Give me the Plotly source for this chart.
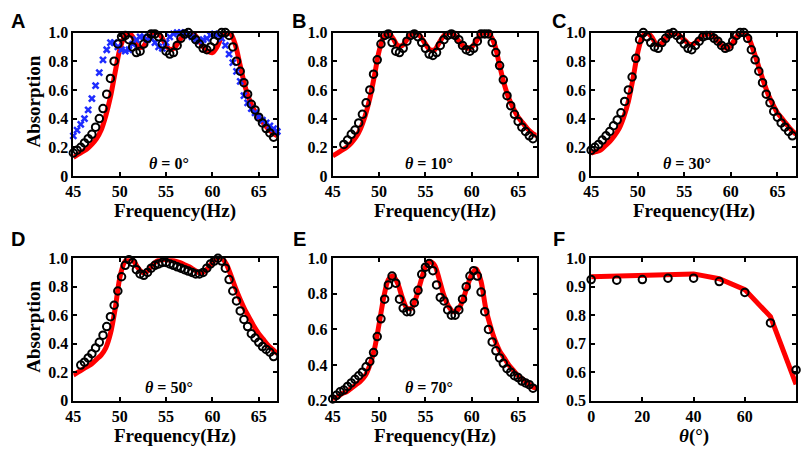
import plotly.graph_objects as go
from plotly.subplots import make_subplots

# measured frequencies (circles / crosses) and simulated frequencies (red curves)
f_meas = [45.0, 45.4, 45.8, 46.2, 46.6, 47.0, 47.4, 47.8, 48.2, 48.6,
          49.0, 49.4, 49.8, 50.2, 50.6, 51.0, 51.4, 51.8, 52.2, 52.6,
          53.0, 53.4, 53.8, 54.2, 54.6, 55.0, 55.4, 55.8, 56.2, 56.6,
          57.0, 57.4, 57.8, 58.2, 58.6, 59.0, 59.4, 59.8, 60.2, 60.6,
          61.0, 61.4, 61.8, 62.2, 62.6, 63.0, 63.4, 63.8, 64.2, 64.6,
          65.0, 65.4, 65.8, 66.2, 66.6, 67.0]
f_sim = [45, 45.5, 46, 46.5, 47, 47.5, 48, 48.5, 49, 49.5,
         50, 50.5, 51, 51.5, 52, 52.5, 53, 53.5, 54, 54.5,
         55, 55.5, 56, 56.5, 57, 57.5, 58, 58.5, 59, 59.5,
         60, 60.5, 61, 61.5, 62, 62.5, 63, 63.5, 64, 64.5,
         65, 65.5, 66, 66.5, 67]

# panel A (theta = 0)
meas_A = [.16, .18, .20, .23, .26, .29, .34, .40, .47, .57,
          .68, .80, .92, .97, .98, .95, .90, .86, .87, .92,
          .96, .99, .99, .97, .92, .87, .85, .86, .91, .96,
          .99, 1.0, .98, .95, .92, .89, .88, .90, .94, .98,
          1.0, 1.0, .98, .90, .80, .73, .65, .57, .50, .46,
          .41, .37, .33, .30, .27, None]
cross_A = [.28, .32, .36, .40, .46, .54, .63, .72, .81, .88,
           .93, .93, .90, .88, .87, .88, .92, .95, .97, .97,
           .95, .96, .93, .90, .89, .93, .97, .99, 1.0, 1.0,
           1.0, .98, .97, .95, .94, .95, .96, .98, .99, .98,
           .96, .91, .85, .79, .73, .66, .56, .51, .47, .44,
           .41, .39, .37, .35, .33, .31]
sim_A = [.13, .15, .17, .19, .22, .26, .32, .42, .55, .72,
         .88, .97, 1.0, .96, .90, .90, .95, .99, 1.0, .97,
         .91, .88, .90, .95, .99, 1.0, .99, .95, .90, .87,
         .86, .90, .97, 1.0, .99, .91, .77, .63, .53, .46,
         .41, .37, .33, .30, .28]

# panel B (theta = 10)
meas_B = [None, None, None, .22, .25, .29, .32, .37, .43, .51,
          .60, .71, .81, .92, .98, .99, .93, .87, .86, .89,
          .94, .98, .99, .97, .93, .89, .85, .84, .86, .91,
          .95, .98, .99, .98, .95, .91, .88, .87, .89, .94,
          .99, .99, .99, .93, .86, .77, .67, .56, .49, .43,
          .38, .34, .31, .28, .26, None]
sim_B = [.14, .16, .18, .20, .23, .27, .33, .42, .54, .70,
         .87, .97, 1.0, .96, .91, .91, .95, .99, 1.0, .97,
         .92, .88, .88, .93, .98, 1.0, .99, .95, .91, .89,
         .90, .94, .99, 1.0, .98, .91, .77, .64, .54, .47,
         .41, .37, .33, .30, .28]

# panel C (theta = 30)
meas_C = [.18, .20, .22, .25, .28, .31, .35, .39, .44, .52,
          .60, .69, .82, .95, 1.0, .97, .93, .90, .89, .93,
          .96, .99, 1.0, .98, .95, .92, .89, .88, .91, .94,
          .97, .98, .98, .96, .94, .91, .89, .90, .94, .98,
          1.0, 1.0, .96, .88, .81, .73, .65, .57, .51, .45,
          .41, .37, .34, .31, .28, None]
sim_C = [.16, .17, .18, .21, .24, .28, .33, .41, .52, .68,
         .86, .97, 1.0, .97, .92, .92, .96, .99, 1.0, .98,
         .95, .92, .92, .95, .98, .99, .98, .95, .91, .89,
         .91, .96, 1.0, 1.0, .95, .86, .76, .66, .57, .50,
         .44, .40, .36, .32, .29]

# panel D (theta = 50)
meas_D = [None, None, .25, .27, .30, .33, .37, .41, .46, .52,
          .59, .67, .77, .87, .95, .99, .97, .92, .89, .88,
          .90, .93, .95, .96, .97, .97, .96, .95, .94, .93,
          .92, .91, .90, .89, .89, .90, .93, .96, .98, 1.0,
          .98, .93, .85, .77, .70, .63, .57, .52, .47, .44,
          .41, .38, .36, .34, .31, None]
sim_D = [.18, .20, .22, .24, .26, .29, .32, .37, .47, .64,
         .86, .97, 1.0, .98, .93, .90, .91, .95, .98, .99,
         .99, .985, .98, .97, .955, .94, .92, .90, .90, .93,
         .97, 1.0, 1.0, .96, .88, .79, .71, .64, .58, .52,
         .47, .43, .39, .36, .33]

# panel E (theta = 70)
meas_E = [.21, .23, .25, .26, .28, .30, .32, .34, .36, .39,
          .42, .47, .56, .66, .77, .85, .90, .86, .77, .72,
          .70, .70, .75, .82, .91, .95, .97, .93, .85, .78,
          .76, .71, .68, .68, .71, .77, .84, .90, .93, .90,
          .81, .70, .60, .53, .48, .44, .41, .38, .36, .34,
          .33, .31, .30, .29, .27, None]
sim_E = [.21, .22, .24, .25, .27, .29, .31, .34, .40, .49,
         .63, .78, .88, .90, .86, .78, .72, .72, .78, .87,
         .95, .98, .96, .88, .79, .73, .70, .71, .76, .84,
         .91, .94, .87, .72, .62, .54, .48, .44, .40, .37,
         .34, .32, .30, .28, .27]

# panel F: absorption vs incidence angle
angles = [0, 10, 20, 30, 40, 50, 60, 70, 80]
meas_F = [.925, .923, .925, .930, .930, .918, .880, .773, .608]
sim_F = [.935, .937, .940, .944, .945, .928, .890, .795, .557]

panels = ["A", "B", "C", "D", "E", "F"]
thetas = ["0", "10", "30", "50", "70"]
meas_list = [meas_A, meas_B, meas_C, meas_D, meas_E]
sim_list = [sim_A, sim_B, sim_C, sim_D, sim_E]

freq_ticks = [45, 50, 55, 60, 65]
abs_ticks = [0, 0.2, 0.4, 0.6, 0.8, 1.0]
abs_text = ["0", "0.2", "0.4", "0.6", "0.8", "1.0"]
absE_ticks = [0.2, 0.4, 0.6, 0.8, 1.0]
absE_text = ["0.2", "0.4", "0.6", "0.8", "1.0"]
ang_ticks = [0, 20, 40, 60, 80]
absF_ticks = [0.5, 0.6, 0.7, 0.8, 0.9, 1.0]
absF_text = ["0.5", "0.6", "0.7", "0.8", "0.9", "1.0"]

SERIF = "Liberation Serif, Times New Roman, serif"
RED = "#ff0000"
BLUE = "#1f2dff"

fig = make_subplots(rows=2, cols=3)

for i in range(5):
    r, c = i // 3 + 1, i % 3 + 1
    fig.add_trace(go.Scatter(x=f_sim, y=sim_list[i], mode="lines",
                             line=dict(color=RED, width=5, shape="spline", smoothing=0.8),
                             showlegend=False), row=r, col=c)
    if i == 0:
        fig.add_trace(go.Scatter(x=f_meas, y=cross_A, mode="markers",
                                 marker=dict(symbol="x-thin", size=6, color=BLUE,
                                             line=dict(color=BLUE, width=2.5)),
                                 cliponaxis=False, showlegend=False), row=r, col=c)
    fig.add_trace(go.Scatter(x=f_meas, y=meas_list[i], mode="markers",
                             marker=dict(symbol="circle-open", size=7.5, color="black",
                                         line=dict(color="black", width=2)),
                             cliponaxis=False, showlegend=False), row=r, col=c)

fig.add_trace(go.Scatter(x=angles, y=sim_F, mode="lines",
                         line=dict(color=RED, width=5), showlegend=False), row=2, col=3)
fig.add_trace(go.Scatter(x=angles, y=meas_F, mode="markers",
                         marker=dict(symbol="circle-open", size=7.5, color="black",
                                     line=dict(color="black", width=2)),
                         cliponaxis=False, showlegend=False), row=2, col=3)

# panel placement (pixels of the 803x453 canvas)
col_dom = [[66 / 803, 272 / 803], [328 / 803, 534 / 803], [589 / 803, 796 / 803]]
row_dom = [[1 - 174.5 / 453, 1 - 25.5 / 453], [1 - 408 / 453, 1 - 260 / 453]]

axis_style = dict(showline=True, linecolor="black", linewidth=2, mirror="ticks",
                  ticks="inside", ticklen=4, tickwidth=1.5, tickcolor="black",
                  showgrid=False, zeroline=False,
                  tickfont=dict(family=SERIF, size=16, color="black", weight="bold"))

for i in range(6):
    r, c = i // 3 + 1, i % 3 + 1
    if i < 5:
        fig.update_xaxes(range=[45, 67], tickvals=freq_ticks, **axis_style, row=r, col=c)
    else:
        fig.update_xaxes(range=[0, 80], tickvals=ang_ticks, **axis_style, row=r, col=c)
    if i < 4:
        fig.update_yaxes(range=[0, 1], tickvals=abs_ticks, ticktext=abs_text,
                         **axis_style, row=r, col=c)
    elif i == 4:
        fig.update_yaxes(range=[0.2, 1], tickvals=absE_ticks, ticktext=absE_text,
                         **axis_style, row=r, col=c)
    else:
        fig.update_yaxes(range=[0.5, 1], tickvals=absF_ticks, ticktext=absF_text,
                         **axis_style, row=r, col=c)
    fig.update_xaxes(domain=col_dom[c - 1], row=r, col=c)
    fig.update_yaxes(domain=row_dom[r - 1], row=r, col=c)

annotations = []
title_font = dict(family=SERIF, size=19, color="black", weight="bold")
for i in range(6):
    ax = "" if i == 0 else str(i + 1)
    xd, yd = "x%s domain" % ax, "y%s domain" % ax
    # x axis title
    xt = "Frequency(Hz)" if i < 5 else "<i>θ</i>(°)"
    annotations.append(dict(text=xt, xref=xd, yref=yd, x=0.5, y=0, xanchor="center",
                            yanchor="top", yshift=-22, showarrow=False, font=title_font))
    # theta label inside the panel
    if i < 5:
        annotations.append(dict(text="<i>θ</i> = %s°" % thetas[i], xref=xd, yref=yd,
                                x=0.47, y=0.09, xanchor="center", yanchor="middle",
                                showarrow=False,
                                font=dict(family=SERIF, size=16, color="black", weight="bold")))
    # panel letter
    lx = [10, 294, 557][i % 3] / 803
    ly = 1 - [14, 240.5][i // 3] / 453
    annotations.append(dict(text=panels[i], xref="paper", yref="paper", x=lx, y=ly,
                            xanchor="center", yanchor="middle", showarrow=False,
                            font=dict(family="Liberation Sans, Arial, sans-serif", size=20,
                                      color="black", weight="bold")))

for ax in ["", "4"]:
    annotations.append(dict(text="Absorption", xref="x%s domain" % ax, yref="y%s domain" % ax,
                            x=0, y=0.5, xanchor="center", yanchor="middle", xshift=-40,
                            yshift=3, textangle=-90, showarrow=False, font=title_font))

fig.update_layout(
    width=803,
    height=453,
    margin=dict(l=0, r=0, t=0, b=0),
    plot_bgcolor="white",
    paper_bgcolor="white",
    showlegend=False,
    annotations=annotations,
)

# page body margin would push the 803x453 figure out of the window
fig.write_html("out.html", config={"displayModeBar": False},
               post_script="document.body.style.margin='0';")
